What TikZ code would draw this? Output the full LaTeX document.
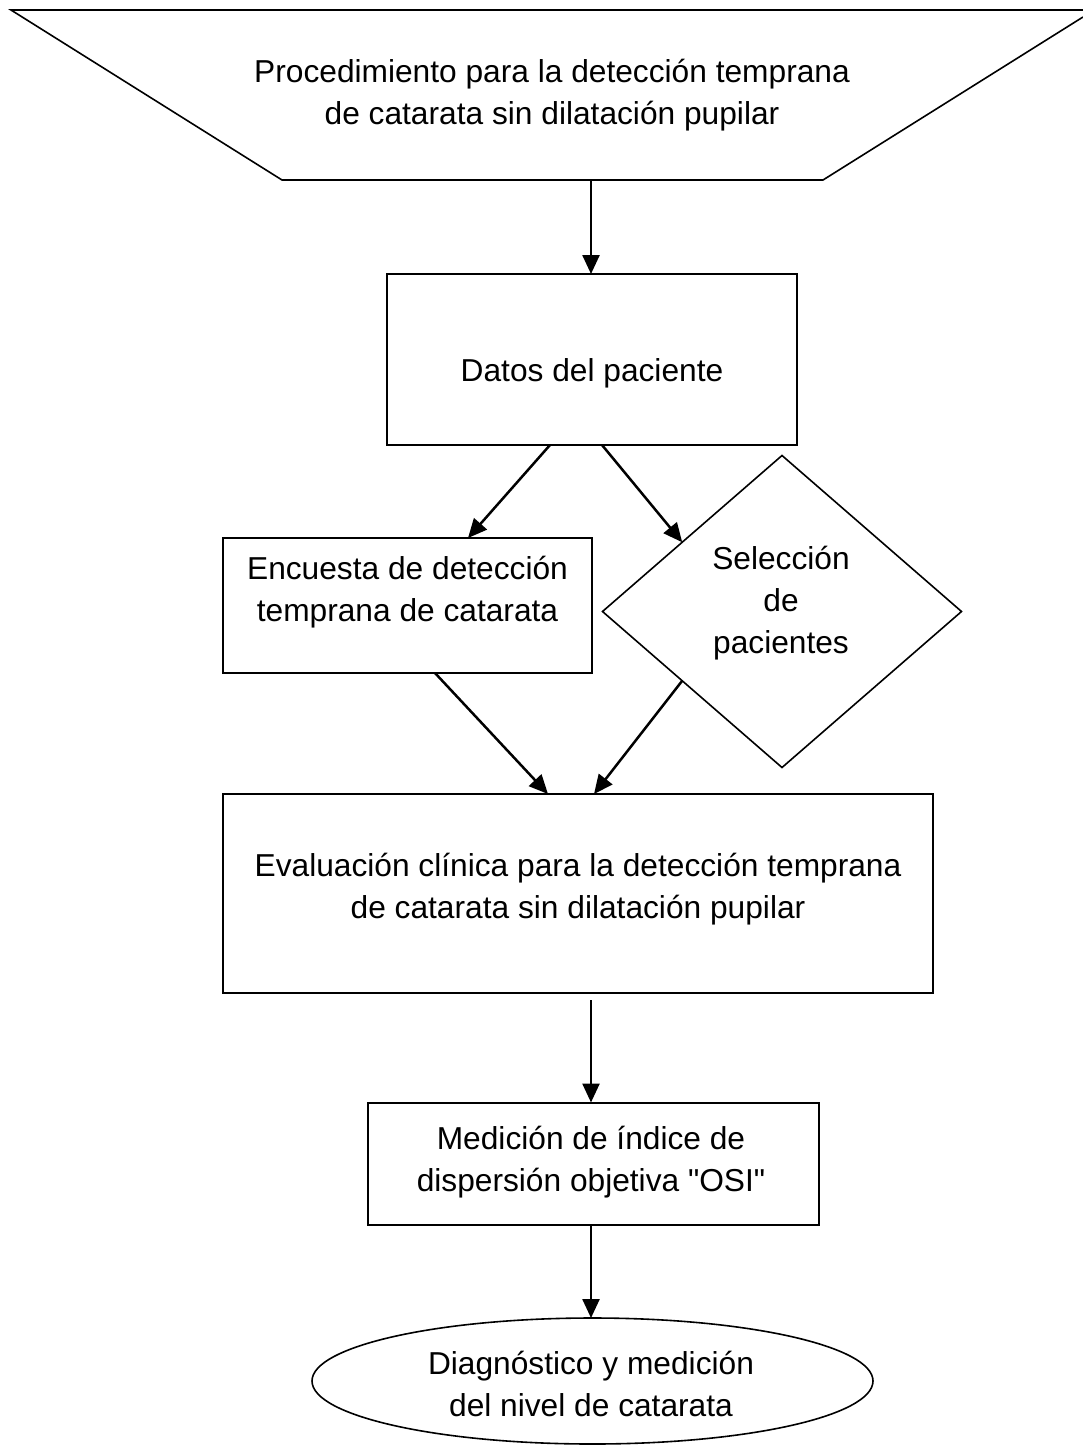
\documentclass[tikz,border=0pt]{standalone}
\usepackage{fontspec}
\setmainfont{Liberation Sans}[Ligatures=TeXOff]
\usetikzlibrary{arrows.meta,calc,shapes.geometric}
\begin{document}
\begin{tikzpicture}[x=1pt,y=-1pt,
  every node/.style={outer sep=0pt},
  box/.style={draw, line width=2pt, inner sep=0pt},
  lbl/.style={align=center, font=\fontsize{31.7}{42}\selectfont, inner sep=0pt},
  arr/.style={line width=2.5pt, -{Triangle[length=19pt,width=17pt]}}]
\useasboundingbox (0,0) rectangle (1083,1448);
\draw[line width=1.6pt, line join=miter] (1083,17) -- (823,180) -- (282,180) -- (11,10) -- (1083,10);
\node[lbl] (proc) at (552,95) {Procedimiento para la detección temprana\\de catarata sin dilatación pupilar};
\coordinate (procbot) at (591,180);
\node[box, minimum width=410pt, minimum height=171pt] (datos) at (592,359.5) {};
\node[lbl] (datost) at (592,373) {Datos del paciente};
\node[box, minimum width=369pt, minimum height=135pt] (enc) at (407.5,605.5) {};
\node[lbl] (enct) at (407.5,592) {Encuesta de detección\\temprana de catarata};
\node[draw, diamond, line width=1.6pt, inner sep=0pt, minimum width=359pt, minimum height=312pt] (diam) at (782,611.5) {};
\node[lbl] (diamt) at (781,603) {Selección\\de\\pacientes};
\node[box, minimum width=710pt, minimum height=199pt] (eval) at (578,893.5) {};
\node[lbl] (evalt) at (578,889) {Evaluación clínica para la detección temprana\\de catarata sin dilatación pupilar};
\node[box, minimum width=451pt, minimum height=122pt] (med) at (593.5,1163.5) {};
\node[lbl] (medt) at (591,1162) {Medición de índice de\\dispersión objetiva "OSI"};
\node[draw, ellipse, line width=1.6pt, inner sep=0pt, minimum width=561pt, minimum height=126pt] (ell) at (592.5,1381) {};
\node[lbl] (ellt) at (591,1384) {Diagnóstico y medición\\del nivel de catarata};
\draw[arr] (procbot) -- (procbot |- datos.north);
\draw[arr] ($(datos.south)+(-42,0)$) -- ($(enc.north)+(60.5,0)$);
\draw[arr] ($(datos.south)+(10,0)$) -- ($(diam.west)!0.444!(diam.north)$);
\draw[arr] ($(enc.south)+(27.5,0)$) -- ($(eval.north)+(-30,0)$);
\draw[arr] ($(diam.west)!0.444!(diam.south)$) -- ($(eval.north)+(16,0)$);
\draw[arr] ($(eval.south)+(13,7)$) -- ($(med.north)+(-2.5,0)$);
\draw[arr] ($(med.south)+(-2.5,0)$) -- ($(ell.north)+(-1.5,0)$);
\end{tikzpicture}
\end{document}
